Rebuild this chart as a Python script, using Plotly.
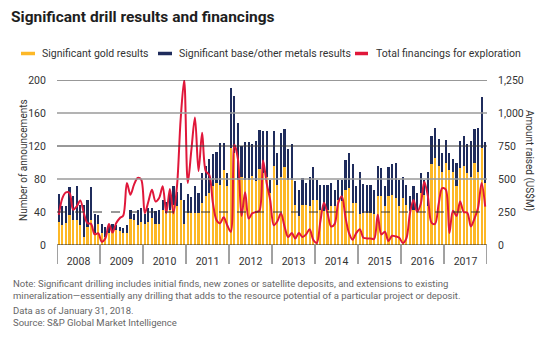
import plotly.graph_objects as go
import pandas as pd

# ---------------- data ----------------
months = pd.date_range("2008-01-01", "2017-12-01", freq="MS").strftime("%Y-%m").tolist()
years = ["2008", "2009", "2010", "2011", "2012", "2013", "2014", "2015", "2016", "2017"]

gold_results = [
    28, 24, 27, 36, 30, 30, 24, 10, 22, 30, 14, 26,      # 2008
    14, 10, 14, 16, 18, 17, 15, 15, 31, 30, 24, 28,      # 2009
    26, 28, 33, 26, 26, 43, 39, 43, 49, 47, 55, 26,      # 2010
    39, 39, 39, 39, 51, 59, 63, 71, 75, 73, 91, 71,      # 2011
    118, 112, 79, 83, 79, 79, 84, 77, 92, 87, 83, 63,    # 2012
    96, 73, 83, 95, 79, 79, 48, 35, 48, 48, 47, 55,      # 2013
    55, 43, 41, 43, 47, 47, 55, 53, 67, 69, 51, 51,      # 2014
    38, 39, 39, 39, 38, 60, 60, 47, 59, 61, 57, 47,      # 2015
    57, 49, 41, 43, 41, 63, 61, 47, 98, 106, 96, 89,     # 2016
    99, 91, 89, 71, 93, 96, 87, 83, 100, 89, 118, 75,    # 2017
]
base_results = [
    34, 23, 20, 34, 30, 42, 25, 39, 33, 40, 24, 10,
    12, 12, 10, 9, 6, 5, 6, 9, 11, 8, 19, 17,
    11, 17, 12, 15, 17, 12, 13, 24, 22, 17, 20, 29,
    23, 19, 33, 24, 36, 37, 41, 39, 38, 51, 33, 16,
    72, 69, 69, 37, 46, 46, 38, 49, 48, 51, 55, 16,
    42, 39, 53, 46, 37, 44, 29, 32, 33, 27, 36, 40,
    24, 30, 32, 30, 28, 20, 24, 26, 36, 43, 47, 20,
    50, 35, 34, 34, 29, 36, 33, 24, 35, 37, 43, 32,
    26, 24, 18, 28, 22, 24, 18, 41, 34, 36, 32, 23,
    28, 21, 15, 29, 33, 36, 36, 43, 41, 53, 62, 50,
]
financings = [
    229, 356, 399, 394, 267, 292, 338, 241, 165, 160, 81, 89,
    25, 51, 160, 94, 165, 203, 224, 470, 381, 457, 508, 495,
    241, 330, 419, 330, 356, 445, 241, 424, 241, 450, 950, 1250,
    470, 720, 965, 560, 850, 560, 530, 320, 190, 165, 210, 150,
    100, 760, 650, 220, 400, 200, 240, 250, 260, 640, 470, 340,
    150, 180, 240, 140, 60, 90, 50, 90, 60, 80, 120, 40,
    15, 180, 320, 240, 140, 160, 320, 370, 210, 90, 40, 90,
    120, 55, 50, 50, 45, 230, 80, 100, 30, 70, 65, 55,
    15, 50, 240, 340, 250, 310, 480, 370, 170, 160, 310, 430,
    420, 90, 260, 220, 330, 250, 245, 140, 200, 280, 470, 290,
]
left_ticks = [0, 40, 80, 120, 160, 200]
right_ticks = [0, 250, 500, 750, 1000, 1250]
right_labels = ["0", "250", "500", "750", "1,000", "1,250"]

# ---------------- style ----------------
GOLD = "#FDB827"
NAVY = "#1F2C5C"
RED = "#E0173A"
FONT = "Roboto"
W, H = 550, 338
L, R, T, B = 57, 487, 80, 245

def px(xp):
    return (xp - L) / (R - L)

def py(yp):
    return (B - yp) / (B - T)

idx = list(range(len(months)))

fig = go.Figure()
fig.add_bar(x=idx, y=gold_results, marker=dict(color=GOLD, line=dict(width=0)),
            name="Significant gold results", showlegend=False, hovertext=months)
fig.add_bar(x=idx, y=base_results, marker=dict(color=NAVY, line=dict(width=0)),
            name="Significant base/other metals results", showlegend=False, hovertext=months)
fig.add_scatter(x=idx, y=financings, yaxis="y2", mode="lines",
                line=dict(color=RED, width=2, shape="spline", smoothing=0.9),
                name="Total financings for exploration", showlegend=False, hovertext=months)

shapes = []
# gridlines
grid_style = {40: dict(color="#333333", width=1, dash="dash"),
              80: dict(color="#9A9A9A", width=1.6),
              120: dict(color="#333333", width=1),
              160: dict(color="#9A9A9A", width=1.6),
              200: dict(color="#333333", width=1)}
for v, st in grid_style.items():
    shapes.append(dict(type="line", xref="paper", yref="y", x0=0, x1=1, y0=v, y1=v,
                       line=st, layer="above"))
# baseline
shapes.append(dict(type="line", xref="paper", yref="y", x0=0, x1=1, y0=0, y1=0,
                   line=dict(color="#222222", width=1), layer="above"))
# year dividers
for k in range(len(years) + 1):
    xv = -0.5 + 12 * k
    shapes.append(dict(type="line", xref="x", yref="paper", x0=xv, x1=xv,
                       y0=0, y1=py(264), line=dict(color="#444444", width=1), layer="above"))

# legend swatches
leg = [(21, 35, GOLD, 40, "Significant gold results"),
       (158, 172, NAVY, 177, "Significant base/other metals results"),
       (355, 368, RED, 374, "Total financings for exploration")]
annotations = []
for x0, x1, col, tx, txt in leg:
    shapes.append(dict(type="line", xref="paper", yref="paper", x0=px(x0), x1=px(x1),
                       y0=py(53.5), y1=py(53.5), line=dict(color=col, width=3.5)))
    annotations.append(dict(text=txt, xref="paper", yref="paper", x=px(tx), y=py(53),
                            xanchor="left", yanchor="middle", showarrow=False,
                            font=dict(family=FONT, size=10.5, color="#333333")))

# title
annotations.append(dict(text="<b>Significant drill results and financings</b>", xref="paper",
                        yref="paper", x=px(9), y=py(17), xanchor="left", yanchor="middle",
                        showarrow=False, font=dict(family=FONT, size=15.5, color="#1E1E1E")))
# axis titles
annotations.append(dict(text="Number of announcements", xref="paper", yref="paper",
                        x=px(23), y=py(160), textangle=-90, xanchor="center", yanchor="middle",
                        showarrow=False, font=dict(family=FONT, size=10, color="#333333")))
annotations.append(dict(text="Amount raised (US$M)", xref="paper", yref="paper",
                        x=px(530), y=py(160), textangle=90, xanchor="center", yanchor="middle",
                        showarrow=False, font=dict(family=FONT, size=10, color="#333333")))
# notes
notes = [
    (283, "Note: Significant drilling includes initial finds, new zones or satellite deposits, and extensions to existing"),
    (295, "mineralization\u2014essentially any drilling that adds to the resource potential of a particular project or deposit."),
    (310, "Data as of January 31, 2018."),
    (322, "Source: S&P Global Market Intelligence"),
]
for yy, txt in notes:
    annotations.append(dict(text=txt, xref="paper", yref="paper", x=px(11), y=py(yy),
                            xanchor="left", yanchor="middle", showarrow=False,
                            font=dict(family=FONT, size=9.5, color="#666666")))

fig.update_layout(
    width=W, height=H,
    margin=dict(l=L, r=W - R, t=T, b=H - B),
    paper_bgcolor="white", plot_bgcolor="white",
    barmode="stack", bargap=0.38,
    showlegend=False,
    font=dict(family=FONT, size=10, color="#333333"),
    xaxis=dict(range=[-0.5, len(months) - 0.5], tickvals=[5.5 + 12 * k for k in range(len(years))],
               ticktext=years, ticks="outside", ticklen=6, tickcolor="rgba(0,0,0,0)",
               showgrid=False, zeroline=False, showline=False,
               tickfont=dict(family=FONT, size=10.5, color="#333333")),
    yaxis=dict(range=[0, 200], tickvals=left_ticks, showgrid=False, zeroline=False,
               showline=False, ticks="outside", ticklen=8, tickcolor="rgba(0,0,0,0)",
               tickfont=dict(family=FONT, size=10.5, color="#333333")),
    yaxis2=dict(range=[0, 1250], tickvals=right_ticks, ticktext=right_labels, overlaying="y",
                side="right", showgrid=False, zeroline=False, showline=False,
                ticks="outside", ticklen=8, tickcolor="rgba(0,0,0,0)",
                tickfont=dict(family=FONT, size=10.5, color="#333333")),
    shapes=shapes,
    annotations=annotations,
)

fig.write_html("out.html")
